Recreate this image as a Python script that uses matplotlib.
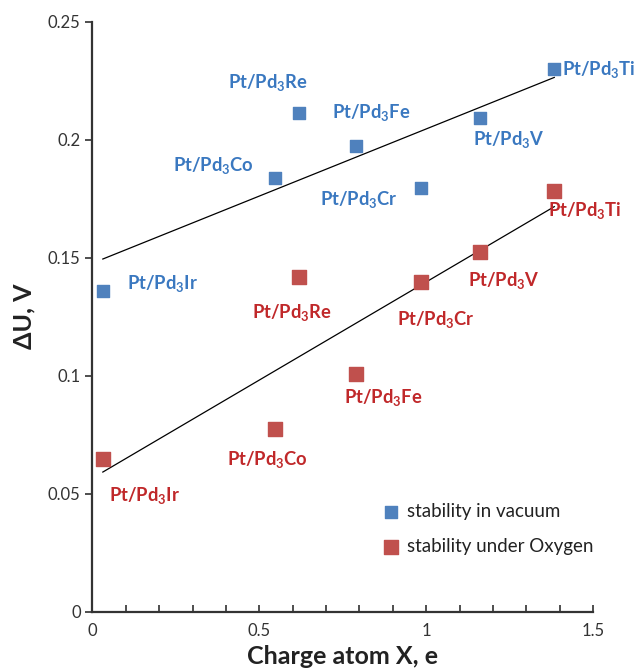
import numpy as np
import matplotlib.pyplot as plt
from matplotlib.ticker import MultipleLocator

plt.rcParams['font.family'] = ['Lato', 'DejaVu Sans']
plt.rcParams['mathtext.fontset'] = 'custom'
plt.rcParams['mathtext.rm'] = 'Lato'
plt.rcParams['mathtext.bf'] = 'Lato:bold'

# datos
elements = ['Ir', 'Co', 'Re', 'Fe', 'Cr', 'V', 'Ti']
charge = [0.031, 0.547, 0.618, 0.791, 0.984, 1.161, 1.384]
du_vacuum = [0.1359, 0.1839, 0.2116, 0.1975, 0.1797, 0.2095, 0.2300]
du_oxygen = [0.0646, 0.0774, 0.1419, 0.1007, 0.1396, 0.1525, 0.1784]

blue = '#4F81BD'
red = '#C0504D'
blue_txt = '#3A78C0'
red_txt = '#C0282A'

# posicion de las etiquetas (pixeles respecto al punto, alineacion)
off_vac = [((24, 8), 'left'), ((-21, 12), 'right'), ((-31, 30), 'center'),
           ((15, 33), 'center'), ((-23, -12), 'right'), ((-7, -22), 'left'),
           ((8, 0), 'left')]
off_oxy = [((6, -36), 'left'), ((-8, -30), 'center'), ((-7, -36), 'center'),
           ((27, -23), 'center'), ((15, -37), 'center'), ((24, -29), 'center'),
           ((-6, -20), 'left')]

fig = plt.figure(figsize=(6.36, 6.72), dpi=100)
ax = fig.add_axes([0.1454, 0.0897, 0.7870, 0.8776])

ax.scatter(charge, du_vacuum, marker='s', s=64, color=blue, zorder=3)
ax.scatter(charge, du_oxygen, marker='s', s=90, color=red, zorder=3)

# rectas de ajuste
x = np.array(charge)
for ys in (du_vacuum, du_oxygen):
    p = np.polyfit(x, ys, 1)
    xl = np.array([x.min(), x.max()])
    ax.plot(xl, np.polyval(p, xl), color='black', lw=0.9, zorder=2)

for i, el in enumerate(elements):
    label = r'Pt/Pd$_\mathbf{3}$' + el
    (dx, dy), ha = off_vac[i]
    ax.annotate(label, (charge[i], du_vacuum[i]), xytext=(dx * 0.72, dy * 0.72),
                textcoords='offset points', ha=ha, va='center',
                color=blue_txt, fontsize=13.2, fontweight='bold')
    (dx, dy), ha = off_oxy[i]
    ax.annotate(label, (charge[i], du_oxygen[i]), xytext=(dx * 0.72, dy * 0.72),
                textcoords='offset points', ha=ha, va='center',
                color=red_txt, fontsize=13.2, fontweight='bold')

ax.set_xlim(0, 1.5)
ax.set_ylim(0, 0.25)
ax.xaxis.set_minor_locator(MultipleLocator(0.1))
ax.set_xticks([0, 0.5, 1, 1.5], ['0', '0.5', '1', '1.5'])
ax.set_yticks([0, 0.05, 0.1, 0.15, 0.2, 0.25], ['0', '0.05', '0.1', '0.15', '0.2', '0.25'])
ax.tick_params(axis='x', which='both', direction='in', length=5, width=1.3,
               colors='#404040', labelcolor='#333333', labelsize=12, pad=8)
ax.tick_params(axis='y', direction='out', length=5, width=1.3,
               colors='#404040', labelcolor='#333333', labelsize=12)

for s in ['top', 'right']:
    ax.spines[s].set_visible(False)
for s in ['left', 'bottom']:
    ax.spines[s].set_linewidth(1.6)
    ax.spines[s].set_color('#333333')

ax.set_xlabel('Charge atom X, e', fontsize=18, fontweight='bold', color='#222222')
ax.set_ylabel('ΔU, V', fontsize=18, fontweight='bold', color='#222222')
ax.xaxis.set_label_coords(0.5, -(645 - 611.7) / 589.7)
ax.yaxis.set_label_coords(-(92.5 - 35) / 500.5, (611.7 - 316) / 589.7)

h1 = ax.scatter([], [], marker='s', s=80, color=blue)
h2 = ax.scatter([], [], marker='s', s=110, color=red)
ax.legend([h1, h2], ['stability in vacuum', 'stability under Oxygen'],
          loc='center left', bbox_to_anchor=(383 / 636, 1 - 529 / 672),
          bbox_transform=fig.transFigure, frameon=False, fontsize=13.5,
          handlelength=0.8, handletextpad=0.5, labelspacing=0.95,
          borderpad=0, borderaxespad=0, labelcolor='#222222')

plt.savefig('out.png', dpi=100)
